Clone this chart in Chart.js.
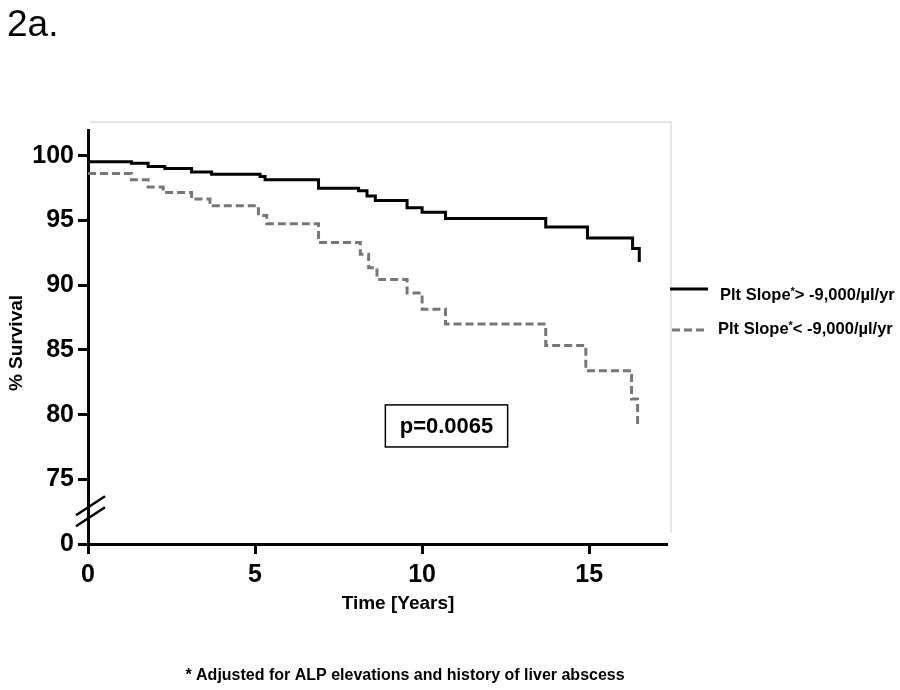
<!DOCTYPE html>
<html>
<head>
<meta charset="utf-8">
<script src="https://cdn.jsdelivr.net/npm/chart.js@4"></script>
<style>
  body { margin: 0; background: #fff; }
  canvas { display: block; }
</style>
</head>
<body>
<canvas id="km" width="900" height="690"></canvas>
<script>
// Kaplan-Meier steps (time in years, % survival)
const solidTimes = [0, 1.3, 1.8, 2.3, 3.1, 3.7, 5.15, 5.3, 6.9, 8.1, 8.35, 8.6, 9.55, 10.0, 10.7, 13.7, 14.95, 16.3, 16.5];
const solidSurvival = [99.55, 99.43, 99.17, 99.02, 98.76, 98.58, 98.4, 98.15, 97.5, 97.3, 96.9, 96.55, 96.0, 95.65, 95.15, 94.5, 93.65, 92.85, 91.8];

const dashedTimes = [0, 1.3, 1.8, 2.25, 3.1, 3.65, 5.1, 5.35, 6.9, 8.15, 8.4, 8.65, 9.55, 10.0, 10.7, 13.7, 14.9, 16.27, 16.45];
const dashedSurvival = [98.63, 98.15, 97.6, 97.17, 96.66, 96.14, 95.4, 94.75, 93.3, 92.4, 91.35, 90.45, 89.4, 88.15, 87.0, 85.35, 83.4, 81.2, 79.1];

const seriesLabels = ['Plt Slope*> -9,000/\u00b5l/yr', 'Plt Slope*< -9,000/\u00b5l/yr'];

const xTicks = [0, 5, 10, 15];
// 70 on the scale stands for the broken-off 0
const yTicks = [70, 75, 80, 85, 90, 95, 100];
const yBreakValue = 70;

const pText = 'p=0.0065';

function toPoints(xs, ys) {
    return xs.map((x, i) => ({ x: x, y: ys[i] }));
}

const FONT = '"Liberation Sans", Arial, sans-serif';

const extrasPlugin = {
    id: 'extras',
    afterDraw(chart) {
        const ctx = chart.ctx;
        const area = chart.chartArea;
        const xs = chart.scales.x;
        const ys = chart.scales.y;
        ctx.save();

        // faint figure frame
        ctx.strokeStyle = '#e6e6e6';
        ctx.lineWidth = 2;
        ctx.beginPath();
        ctx.moveTo(area.left + 2, area.top - 8);
        ctx.lineTo(area.right + 5, area.top - 8);
        ctx.lineTo(area.right + 5, area.bottom - 11);
        ctx.stroke();

        // axis break marks
        ctx.strokeStyle = '#000';
        ctx.lineWidth = 2.5;
        const bx = area.left;
        [73.0, 72.3].forEach((v, i) => {
            const by = ys.getPixelForValue(v) + i * 2;
            ctx.beginPath();
            ctx.moveTo(bx - 12, by + 10);
            ctx.lineTo(bx + 17, by - 9);
            ctx.stroke();
        });

        // legend
        const ds = chart.data.datasets;
        const rows = [289, 330];
        ds.forEach((d, i) => {
            const y = rows[i];
            ctx.strokeStyle = d.borderColor;
            ctx.lineWidth = 3;
            ctx.setLineDash(d.borderDash || []);
            ctx.beginPath();
            ctx.moveTo(i === 0 ? 670 : 672, y);
            ctx.lineTo(i === 0 ? 708 : 706, y);
            ctx.stroke();
            ctx.setLineDash([]);

            const parts = d.label.split('*');
            let tx = i === 0 ? 720 : 718;
            const ty = y + (i === 0 ? 6 : -1);
            ctx.fillStyle = '#000';
            ctx.textBaseline = 'middle';
            ctx.textAlign = 'left';
            ctx.font = 'bold 16.5px ' + FONT;
            ctx.fillText(parts[0], tx, ty);
            tx += ctx.measureText(parts[0]).width;
            ctx.font = 'bold 11px ' + FONT;
            ctx.fillText('*', tx, ty - 3);
            tx += ctx.measureText('*').width;
            ctx.font = 'bold 16.5px ' + FONT;
            ctx.fillText(parts[1], tx, ty);
        });

        // p-value box
        const l = xs.getPixelForValue(8.9), r = xs.getPixelForValue(12.56);
        const t = ys.getPixelForValue(80.75), b = ys.getPixelForValue(77.5);
        ctx.strokeStyle = '#000';
        ctx.lineWidth = 1.5;
        ctx.strokeRect(l, t, r - l, b - t);
        ctx.fillStyle = '#000';
        ctx.font = 'bold 22px ' + FONT;
        ctx.textAlign = 'center';
        ctx.textBaseline = 'middle';
        ctx.fillText(pText, (l + r) / 2, (t + b) / 2 + 1);

        // axis titles
        ctx.font = 'bold 19px ' + FONT;
        ctx.fillText('Time [Years]', 398, 604);
        ctx.save();
        ctx.translate(17, 343);
        ctx.rotate(-Math.PI / 2);
        ctx.fillText('% Survival', 0, 0);
        ctx.restore();

        // footnote
        ctx.font = 'bold 16px ' + FONT;
        ctx.fillText('* Adjusted for ALP elevations and history of liver abscess', 405, 676);

        // panel label
        ctx.font = '37px ' + FONT;
        ctx.textAlign = 'left';
        ctx.textBaseline = 'alphabetic';
        ctx.fillText('2a.', 7, 36);

        ctx.restore();
    }
};

new Chart(document.getElementById('km'), {
    type: 'line',
    data: {
        datasets: [
            {
                label: seriesLabels[0],
                data: toPoints(solidTimes, solidSurvival),
                borderColor: '#000',
                borderWidth: 3,
                stepped: 'before',
                pointRadius: 0,
                fill: false
            },
            {
                label: seriesLabels[1],
                data: toPoints(dashedTimes, dashedSurvival),
                borderColor: '#777',
                borderWidth: 3,
                borderDash: [8, 4],
                stepped: 'before',
                pointRadius: 0,
                fill: false
            }
        ]
    },
    options: {
        responsive: false,
        animation: false,
        layout: { padding: { top: 130, right: 234, left: 0, bottom: 66 } },
        plugins: {
            legend: { display: false },
            tooltip: { enabled: false }
        },
        scales: {
            x: {
                type: 'linear',
                min: 0,
                max: 17.3,
                afterFit: (s) => { s.height = 80; },
                afterBuildTicks: (s) => { s.ticks = xTicks.map(v => ({ value: v })); },
                grid: { display: true, drawOnChartArea: false, tickLength: 10, color: '#000', lineWidth: 3 },
                border: { display: true, color: '#000', width: 3 },
                ticks: {
                    color: '#000',
                    padding: 6,
                    maxRotation: 0,
                    font: { family: FONT, size: 25, weight: 'bold' }
                }
            },
            y: {
                min: 70,
                max: 102,
                afterFit: (s) => { s.width = 88; },
                afterBuildTicks: (s) => { s.ticks = yTicks.map(v => ({ value: v })); },
                grid: { display: true, drawOnChartArea: false, tickLength: 10, color: '#000', lineWidth: 3 },
                border: { display: true, color: '#000', width: 3 },
                ticks: {
                    color: '#000',
                    padding: 4,
                    font: { family: FONT, size: 25, weight: 'bold' },
                    callback: (v) => v === yBreakValue ? '0' : String(v)
                }
            }
        }
    },
    plugins: [extrasPlugin]
});
</script>
</body>
</html>
